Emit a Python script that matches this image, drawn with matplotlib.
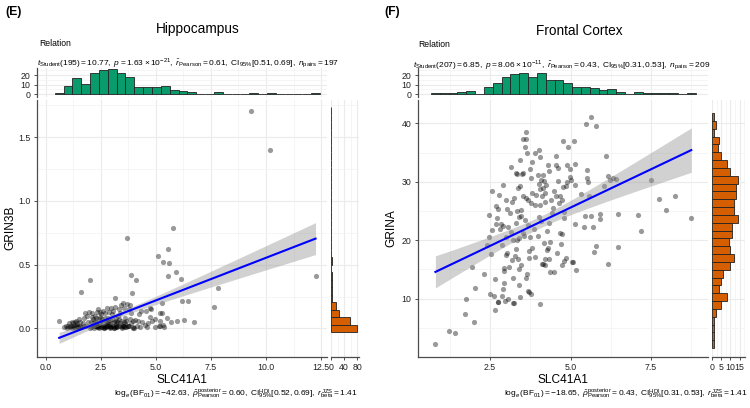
import numpy as np
import matplotlib
matplotlib.use("Agg")
import matplotlib.pyplot as plt
from matplotlib.ticker import MultipleLocator

plt.rcParams['font.family'] = ['Liberation Sans', 'DejaVu Sans']
plt.rcParams['mathtext.fontset'] = 'custom'
plt.rcParams['mathtext.rm'] = 'Liberation Sans'
plt.rcParams['mathtext.it'] = 'Liberation Sans:italic'
plt.rcParams['mathtext.bf'] = 'Liberation Sans:bold'

# --- Hippocampus: SLC41A1 vs GRIN3B ---
hip_x = [0.61,
         0.85, 0.92, 0.97, 1.02, 1.05, 1.10, 1.13, 1.17, 1.19,
         1.23, 1.26, 1.28, 1.31, 1.33, 1.36, 1.38, 1.41, 1.43, 1.46, 1.48, 1.50, 1.52, 1.54, 1.56, 1.58, 1.60,
         1.64, 1.68, 1.72, 1.75, 1.79, 1.83, 1.87, 1.91, 1.95, 1.99, 2.00,
         2.04, 2.06, 2.08, 2.10, 2.12, 2.14, 2.16, 2.18, 2.20, 2.22, 2.24, 2.26, 2.28, 2.30, 2.32, 2.33, 2.35,
         2.36, 2.38, 2.39, 2.40, 2.41,
         2.43, 2.45, 2.47, 2.48, 2.50, 2.52, 2.53, 2.55, 2.57, 2.58, 2.60, 2.62, 2.63, 2.65, 2.67, 2.68, 2.70,
         2.71, 2.73, 2.75, 2.76, 2.78, 2.79, 2.80, 2.81,
         2.83, 2.85, 2.86, 2.88, 2.90, 2.91, 2.93, 2.95, 2.96, 2.98, 3.00, 3.01, 3.03, 3.05, 3.06, 3.08, 3.10,
         3.11, 3.13, 3.14, 3.16, 3.17, 3.18, 3.19, 3.20, 3.21,
         3.23, 3.25, 3.27, 3.29, 3.31, 3.33, 3.35, 3.37, 3.39, 3.41, 3.43, 3.45, 3.47, 3.49, 3.50, 3.52, 3.54,
         3.56, 3.57, 3.58, 3.60, 3.61,
         3.64, 3.66, 3.68, 3.71, 3.73, 3.75, 3.77, 3.79, 3.81, 3.83, 3.85, 3.87, 3.89, 3.92, 3.94, 3.96, 3.98, 4.00,
         4.05, 4.09, 4.13, 4.17, 4.22, 4.28, 4.33, 4.38,
         4.49, 4.57, 4.62, 4.65, 4.72, 4.74, 4.80,
         4.84, 4.95, 4.98, 5.10, 5.13, 5.17, 5.19, 5.21,
         5.26, 5.28, 5.31, 5.33, 5.35, 5.50, 5.55, 5.56, 5.60,
         5.68, 5.77, 5.91, 5.98,
         6.12, 6.18, 6.26,
         6.46, 6.74,
         7.66, 7.81,
         9.33, 10.18, 12.25]
hip_y = [0.06,
         0.01, 0.02, 0.00, 0.02, 0.04, 0.01, 0.02, 0.00, 0.05,
         0.02, 0.04, 0.01, 0.05, 0.00, 0.02, 0.06, 0.02, 0.04, 0.01, 0.01, 0.07, 0.00, 0.02, 0.05, 0.284, 0.01,
         0.01, 0.04, 0.02, 0.08, 0.12, 0.02, 0.10, 0.05, 0.13, 0.376, 0.00,
         0.01, 0.05, 0.09, 0.12, 0.02, 0.04, 0.07, 0.00, 0.02, 0.10, 0.06, 0.02, 0.04, 0.08, 0.01, 0.13, 0.02,
         0.01, 0.15, 0.02, 0.07, 0.00,
         0.04, 0.09, 0.02, 0.13, 0.06, 0.01, 0.11, 0.01, 0.07, 0.14, 0.02, 0.05, 0.00, 0.00, 0.01, 0.08, 0.12,
         0.02, 0.06, 0.01, 0.02, 0.04, 0.16, 0.02, 0.05,
         0.08, 0.02, 0.13, 0.05, 0.00, 0.01, 0.02, 0.16, 0.06, 0.01, 0.11, 0.02, 0.07, 0.02, 0.14, 0.05, 0.00,
         0.00, 0.237, 0.01, 0.17, 0.06, 0.02, 0.01, 0.04, 0.08,
         0.01, 0.05, 0.10, 0.02, 0.15, 0.07, 0.02, 0.12, 0.04, 0.18, 0.06, 0.01, 0.00, 0.20, 0.02, 0.02, 0.05,
         0.16, 0.02, 0.08, 0.01, 0.04,
         0.01, 0.06, 0.19, 0.708, 0.02, 0.02, 0.15, 0.02, 0.07, 0.18, 0.418, 0.04, 0.12, 0.279, 0.01, 0.06, 0.00, 0.00,
         0.066, 0.38, 0.02, 0.058, 0.11, 0.01, 0.14, 0.05,
         0.024, 0.134, 0.01, 0.04, 0.092, 0.158, 0.15,
         0.058, 0.01, 0.071, 0.568, 0.02, 0.055, 0.124, 0.02,
         0.121, 0.20, 0.029, 0.52, 0.01, 0.08, 0.626, 0.413, 0.516,
         0.05, 0.79, 0.445, 0.06,
         0.387, 0.218, 0.063,
         0.218, 0.053,
         0.168, 0.318,
         1.705, 1.397, 0.413]

# --- Frontal Cortex: SLC41A1 vs GRINA ---
fc_x = [0.80, 1.21, 1.41, 1.73, 1.75, 1.95, 2.00, 2.03, 2.32,
        2.40, 2.45, 2.48, 2.50, 2.52, 2.55, 2.57,
        2.61, 2.64, 2.66, 2.67, 2.68, 2.70, 2.73, 2.75, 2.76, 2.77, 2.80, 2.84, 2.87,
        2.89, 2.88, 2.90, 2.91, 2.92, 2.93, 2.94, 2.96, 2.98, 2.99, 3.00, 3.01, 3.03, 3.05, 3.07, 3.10, 3.12, 3.14,
        3.16, 3.18, 3.19, 3.20, 3.21, 3.22, 3.24, 3.25, 3.27, 3.29, 3.30, 3.31, 3.33, 3.34, 3.35, 3.36, 3.38,
        3.39, 3.40, 3.41, 3.42, 3.40, 3.43,
        3.44, 3.45, 3.46, 3.47, 3.49, 3.51, 3.52, 3.53, 3.53, 3.55, 3.57, 3.58, 3.60, 3.61, 3.61, 3.63, 3.64,
        3.66, 3.67, 3.68, 3.69,
        3.71, 3.71, 3.72, 3.74, 3.75, 3.77, 3.77, 3.78, 3.79, 3.80, 3.80, 3.86, 3.88, 3.88, 3.91, 3.93,
        3.99, 4.00, 4.01, 4.02, 4.03, 4.05, 4.05, 4.05, 4.06, 4.08, 4.09, 4.10, 4.12, 4.13, 4.14, 4.15, 4.16,
        4.18, 4.19, 4.20, 4.21, 4.22, 4.24,
        4.26, 4.28, 4.29, 4.30, 4.32, 4.33, 4.34, 4.35, 4.36, 4.40, 4.42, 4.45, 4.47, 4.50,
        4.54, 4.55, 4.56, 4.58, 4.60, 4.61, 4.63, 4.66, 4.68, 4.70, 4.72, 4.73, 4.74, 4.75, 4.77, 4.79,
        4.80, 4.81, 4.85, 4.87, 4.88, 4.88, 4.93, 4.97, 4.97, 5.00, 5.03, 5.07,
        5.12, 5.13, 5.13, 5.15, 5.16, 5.32,
        5.43, 5.44, 5.47, 5.50, 5.52, 5.53, 5.57, 5.62,
        5.65, 5.71, 5.72, 5.78, 5.79,
        5.92, 5.92, 6.04, 6.10, 6.15, 6.16,
        6.23, 6.33, 6.41,
        6.47, 6.47,
        7.08, 7.18, 7.49, 7.76, 7.95, 8.24, 8.75]
fc_y = [2.2, 4.4, 4.2, 7.3, 9.9, 15.5, 6.0, 11.9, 14.2,
        19.2, 20.6, 24.4, 10.8, 17.7, 28.5, 21.8,
        10.5, 8.1, 13.4, 25.9, 22.7, 23.8, 9.4, 25.4, 9.5, 27.8, 22.0, 22.8, 19.1,
        11.7, 10.5, 22.5, 29.5, 15.2, 14.7, 12.6, 9.6, 17.5, 26.9, 20.5, 25.4, 17.8, 9.9, 22.2, 15.4, 24.6, 21.4,
        32.5, 16.6, 26.5, 9.2, 20.0, 13.6, 9.3, 27.3, 17.3, 23.0, 18.5, 31.5, 31.4, 20.1, 25.0, 28.9, 16.8,
        24.0, 12.4, 15.0, 33.7, 20.3, 29.3,
        10.2, 15.8, 25.1, 24.2, 31.3, 27.5, 21.2, 31.5, 37.4, 20.8, 23.5, 36.0, 27.2, 37.4, 13.5, 38.5, 35.0,
        14.3, 22.6, 26.9, 11.3,
        18.1, 11.2, 17.0, 32.2, 20.6, 26.4, 30.7, 10.8, 18.6, 33.4, 28.0, 21.9, 26.1, 34.9, 17.2, 27.8,
        20.7, 31.2, 29.6, 35.5, 24.0, 34.3, 28.7, 26.1, 9.1, 23.3, 30.3, 16.0, 27.6, 15.9, 28.9, 31.2, 19.5,
        30.2, 15.7, 28.0, 26.6, 16.8, 29.5,
        18.3, 21.5, 18.7, 32.8, 23.0, 31.8, 16.8, 14.5, 19.7, 26.9, 24.7, 25.5, 28.5, 14.6,
        27.6, 34.4, 32.9, 17.8, 32.4, 30.2, 26.3, 21.2, 27.5, 19.3, 26.9, 15.7, 21.0, 36.9, 29.1, 24.8,
        23.8, 16.5, 29.2, 16.9, 32.9, 29.9, 35.9, 32.2, 30.9, 30.3, 16.3, 16.3,
        36.9, 29.4, 33.1, 22.8, 14.9, 27.9,
        22.3, 24.1, 39.9, 30.7, 32.1, 29.9, 27.5, 41.1,
        24.2, 22.3, 18.0, 39.5, 19.0,
        24.5, 23.7, 29.3, 34.5, 31.0, 15.9,
        30.3, 30.6, 30.5,
        24.5, 18.8,
        24.3, 21.5, 30.3, 27.0, 25.1, 27.6, 23.8]

hip_stats = (r'$t_{\mathrm{Student}}(195) = 10.77,\ p = 1.63\times10^{-21},\ '
             r'\hat{r}_{\mathrm{Pearson}} = 0.61,\ \mathrm{CI}_{95\%}[0.51, 0.69],\ n_{\mathrm{pairs}} = 197$')
hip_bayes = (r'$\log_{e}(\mathrm{BF}_{01}) = -42.63,\ \hat{\rho}_{\mathrm{Pearson}}^{\mathrm{posterior}} = 0.60,\ '
             r'\mathrm{CI}_{95\%}^{\mathrm{HDI}}[0.52, 0.69],\ r_{\mathrm{beta}}^{\mathrm{JZS}} = 1.41$')
fc_stats = (r'$t_{\mathrm{Student}}(207) = 6.85,\ p = 8.06\times10^{-11},\ '
            r'\hat{r}_{\mathrm{Pearson}} = 0.43,\ \mathrm{CI}_{95\%}[0.31, 0.53],\ n_{\mathrm{pairs}} = 209$')
fc_bayes = (r'$\log_{e}(\mathrm{BF}_{01}) = -18.65,\ \hat{\rho}_{\mathrm{Pearson}}^{\mathrm{posterior}} = 0.43,\ '
            r'\mathrm{CI}_{95\%}^{\mathrm{HDI}}[0.31, 0.53],\ r_{\mathrm{beta}}^{\mathrm{JZS}} = 1.41$')

GREEN = '#0a9b6d'
ORANGE = '#d55e00'
GRID = '#ebebeb'
GRID_MINOR = '#f4f4f4'
AXC = '#4d4d4d'
T_CRIT = 1.97
TICK_FS = 6.3

W, H = 750, 408
fig = plt.figure(figsize=(7.5, 4.08), dpi=100)


def box(x0, y0, x1, y1):
    # pixel box (top-left origin) -> figure fraction
    return [x0 / W, 1 - y1 / H, (x1 - x0) / W, (y1 - y0) / H]


def style(ax, show_left=True, show_bottom=True):
    for s in ['top', 'right']:
        ax.spines[s].set_visible(False)
    ax.spines['left'].set_visible(show_left)
    ax.spines['bottom'].set_visible(show_bottom)
    for s in ['left', 'bottom']:
        ax.spines[s].set_color(AXC)
        ax.spines[s].set_linewidth(0.9)
    ax.tick_params(labelsize=TICK_FS, length=2.5, color=AXC, labelcolor='#222222', width=0.7, pad=2)
    ax.tick_params(which='minor', length=0)
    ax.grid(True, which='major', color=GRID, lw=0.8)
    ax.grid(True, which='minor', color=GRID_MINOR, lw=0.6)
    ax.set_axisbelow(True)


def hist_bins(v):
    v = np.asarray(v)
    w = (v.max() - v.min()) / 29
    return v.min() - w / 2 + w * np.arange(31)


def panel(xs, ys, x0, x1, xlim, ylim, xmaj, ymaj, ylabel, rh_x1, rh_lim, rh_ticks):
    xs = np.asarray(xs)
    ys = np.asarray(ys)
    ax = fig.add_axes(box(x0, 100, x1, 356.5))
    style(ax)
    ax.scatter(xs, ys, s=14, color='black', alpha=0.4, linewidths=0, zorder=3)
    # linear fit with 95% confidence band
    b, a = np.polyfit(xs, ys, 1)
    gx = np.linspace(xs.min(), xs.max(), 100)
    resid = ys - (a + b * xs)
    s = np.sqrt(np.sum(resid ** 2) / (len(xs) - 2))
    se = s * np.sqrt(1 / len(xs) + (gx - xs.mean()) ** 2 / np.sum((xs - xs.mean()) ** 2))
    fit = a + b * gx
    ax.fill_between(gx, fit - T_CRIT * se, fit + T_CRIT * se, color='#999999', alpha=0.45, lw=0, zorder=4)
    ax.plot(gx, fit, color='#0000ff', lw=1.5, zorder=5)
    ax.set_xlim(xlim)
    ax.set_ylim(ylim)
    ax.xaxis.set_major_locator(MultipleLocator(xmaj))
    ax.xaxis.set_minor_locator(MultipleLocator(xmaj / 2))
    ax.yaxis.set_major_locator(MultipleLocator(ymaj))
    ax.yaxis.set_minor_locator(MultipleLocator(ymaj / 2))
    if ymaj < 1:
        ax.yaxis.set_major_formatter(lambda v, p: f'{v:.1f}')
    ax.xaxis.set_major_formatter(lambda v, p: f'{v:.1f}')
    ax.set_ylabel(ylabel, fontsize=8.6)
    ax.set_xlabel('SLC41A1', fontsize=8.6)
    ax.yaxis.set_label_coords(-0.07, 0.5)
    ax.xaxis.set_label_coords(0.5, -0.068)

    # top marginal histogram
    at = fig.add_axes(box(x0, 68, x1, 97))
    style(at, show_bottom=False)
    at.hist(xs, bins=hist_bins(xs), color=GREEN, edgecolor='#222222', lw=0.6, zorder=3)
    at.set_xlim(xlim)
    at.set_ylim(-3, 27.5)
    at.set_yticks([0, 10, 20])
    at.yaxis.set_minor_locator(MultipleLocator(5))
    at.xaxis.set_major_locator(MultipleLocator(xmaj))
    at.xaxis.set_minor_locator(MultipleLocator(xmaj / 2))
    at.tick_params(axis='x', length=0, labelbottom=False)

    # right marginal histogram
    ar = fig.add_axes(box(x1 + 4, 100, rh_x1, 356.5))
    style(ar, show_left=False)
    ar.hist(ys, bins=hist_bins(ys), orientation='horizontal', color=ORANGE,
            edgecolor='#222222', lw=0.6, zorder=3)
    ar.set_ylim(ylim)
    ar.set_xlim(rh_lim)
    ar.set_xticks(rh_ticks)
    ar.xaxis.set_minor_locator(MultipleLocator((rh_ticks[1] - rh_ticks[0]) / 2))
    ar.yaxis.set_major_locator(MultipleLocator(ymaj))
    ar.yaxis.set_minor_locator(MultipleLocator(ymaj / 2))
    ar.tick_params(axis='y', length=0, labelleft=False)
    ar.tick_params(axis='x', pad=2)
    return ax


panel(hip_x, hip_y, 36.7, 327, (-0.41, 12.77), (-0.22, 1.79), 2.5, 0.5, 'GRIN3B',
      359, (0, 86), [0, 40, 80])
panel(fc_x, fc_y, 417.7, 708, (0.25, 9.27), (0.1, 44), 2.5, 10, 'GRINA',
      745, (0, 17.9), [0, 5, 10, 15])

# panel tags, titles and statistics
fig.text(5 / W, 1 - 12 / H, '(E)', fontsize=8.8, fontweight='bold', va='center')
fig.text(384 / W, 1 - 12.5 / H, '(F)', fontsize=8.8, fontweight='bold', va='center')
fig.text(197.5 / W, 1 - 29.5 / H, 'Hippocampus', fontsize=9.8, ha='center', va='center')
fig.text(579 / W, 1 - 31 / H, 'Frontal Cortex', fontsize=9.8, ha='center', va='center')
fig.text(39.5 / W, 1 - 43.5 / H, 'Relation', fontsize=6.2, va='center')
fig.text(418 / W, 1 - 44.5 / H, 'Relation', fontsize=6.2, va='center')
fig.text(37 / W, 1 - 62.5 / H, hip_stats, fontsize=6, va='center')
fig.text(413 / W, 1 - 64.5 / H, fc_stats, fontsize=6, va='center')
fig.text(358 / W, 1 - 393.5 / H, hip_bayes, fontsize=6, ha='right', va='center')
fig.text(748 / W, 1 - 393.5 / H, fc_bayes, fontsize=6, ha='right', va='center')

fig.savefig('out.png', dpi=100)
